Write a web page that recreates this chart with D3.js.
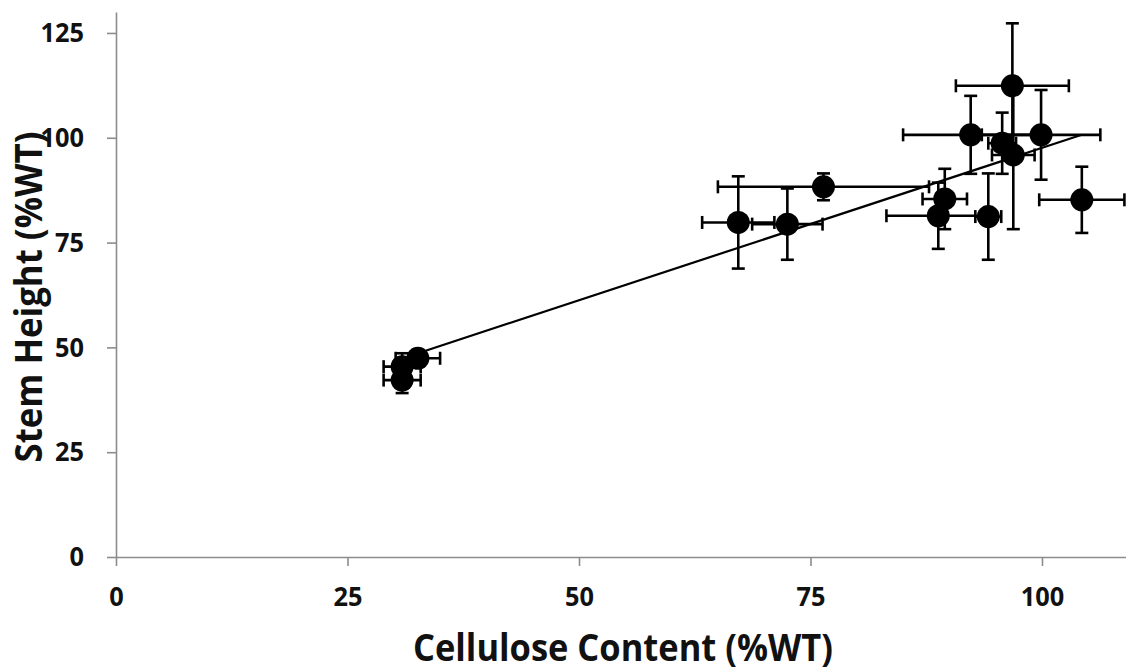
<!DOCTYPE html>
<html>
<head>
<meta charset="utf-8">
<script src="https://cdn.jsdelivr.net/npm/d3@7"></script>
<style>
  html, body { margin: 0; padding: 0; background: #fff; overflow: hidden; }
  svg { display: block; font-family: "Open Sans", "Noto Sans", sans-serif; }
</style>
</head>
<body>
<div id="chart"></div>
<script>
"use strict";

// === DATA ===
const cellulose = [30.9, 30.9, 32.6, 67.2, 72.5, 76.4, 89.5, 88.8, 94.2, 92.3, 95.7, 96.9, 96.8, 99.9, 104.3];
const cellErr   = [2.0, 2.0, 2.4, 3.9, 3.8, 11.4, 2.4, 5.6, 1.4, 7.3, 1.5, 2.3, 6.1, 6.4, 4.6];
const height    = [45.4, 42.2, 47.4, 79.8, 79.4, 88.3, 85.4, 81.4, 81.2, 100.7, 98.7, 95.9, 112.4, 100.7, 85.2];
const heightErr = [3.2, 3.1, 2.0, 11.0, 8.5, 3.2, 7.2, 7.9, 10.3, 9.3, 7.3, 17.7, 14.9, 10.7, 7.9];
const xTicks = [0, 25, 50, 75, 100];
const yTicks = [0, 25, 50, 75, 100, 125];
// linear trendline (Excel style)
const trendSlope = 0.727, trendIntercept = 24.9;

const points = cellulose.map((c, i) => ({ x: c, y: height[i], ex: cellErr[i], ey: heightErr[i] }));

// === SVG SETUP ===
const W = 1126, H = 671;
const svg = d3.select("#chart").append("svg")
  .attr("width", W).attr("height", H);

// === SCALES ===
const x = d3.scaleLinear().domain([0, 110]).range([116, 1134.6]);
const y = d3.scaleLinear().domain([0, 130]).range([557, 12]);

const axisColor = "#8c8c8c";

// === AXES ===
const gx = svg.append("g")
  .attr("transform", `translate(0,${y(0)})`)
  .call(d3.axisBottom(x).tickValues(xTicks).tickSize(9).tickPadding(21).tickSizeOuter(0));
const gy = svg.append("g")
  .attr("transform", `translate(${x(0)},0)`)
  .call(d3.axisLeft(y).tickValues(yTicks).tickSize(9).tickPadding(23).tickSizeOuter(0));

[gx, gy].forEach(g => {
  g.select(".domain").attr("stroke", axisColor).attr("stroke-width", 1.6);
  g.selectAll(".tick line").attr("stroke", axisColor).attr("stroke-width", 1.6);
  g.selectAll(".tick text")
    .attr("fill", "#111")
    .attr("font-size", 27)
    .attr("font-weight", "bold")
    .attr("font-family", "'Open Sans', sans-serif")
    .attr("textLength", d => String(d).length * 14.5)
    .attr("lengthAdjust", "spacingAndGlyphs");
});

// === AXIS TITLES ===
svg.append("text")
  .attr("x", 623).attr("y", 661)
  .attr("text-anchor", "middle")
  .attr("font-size", 37).attr("font-weight", "bold").attr("fill", "#111")
  .attr("textLength", 420).attr("lengthAdjust", "spacingAndGlyphs")
  .text("Cellulose Content (%WT)");

svg.append("text")
  .attr("transform", "rotate(-90)")
  .attr("x", -297).attr("y", 42)
  .attr("text-anchor", "middle")
  .attr("font-size", 37).attr("font-weight", "bold").attr("fill", "#111")
  .attr("textLength", 331).attr("lengthAdjust", "spacingAndGlyphs")
  .text("Stem Height (%WT)");

// === ERROR BARS ===
const cap = 6.5;
const bars = svg.append("g").attr("stroke", "#000").attr("stroke-width", 2.6);

points.forEach(d => {
  const cx = x(d.x), cy = y(d.y);
  const x1 = x(d.x - d.ex), x2 = x(d.x + d.ex);
  const y1 = y(d.y + d.ey), y2 = y(d.y - d.ey);
  // horizontal
  bars.append("line").attr("x1", x1).attr("x2", x2).attr("y1", cy).attr("y2", cy);
  bars.append("line").attr("x1", x1).attr("x2", x1).attr("y1", cy - cap).attr("y2", cy + cap);
  bars.append("line").attr("x1", x2).attr("x2", x2).attr("y1", cy - cap).attr("y2", cy + cap);
  // vertical
  bars.append("line").attr("x1", cx).attr("x2", cx).attr("y1", y1).attr("y2", y2);
  bars.append("line").attr("x1", cx - cap).attr("x2", cx + cap).attr("y1", y1).attr("y2", y1);
  bars.append("line").attr("x1", cx - cap).attr("x2", cx + cap).attr("y1", y2).attr("y2", y2);
});

// === TRENDLINE ===
const [xmin, xmax] = d3.extent(cellulose);
svg.append("line")
  .attr("x1", x(xmin)).attr("y1", y(trendSlope * xmin + trendIntercept))
  .attr("x2", x(xmax)).attr("y2", y(trendSlope * xmax + trendIntercept))
  .attr("stroke", "#000").attr("stroke-width", 2.2);

// === MARKERS ===
svg.append("g").selectAll("circle")
  .data(points)
  .enter()
  .append("circle")
  .attr("cx", d => x(d.x))
  .attr("cy", d => y(d.y))
  .attr("r", 11.5)
  .attr("fill", "#000");
</script>
</body>
</html>
